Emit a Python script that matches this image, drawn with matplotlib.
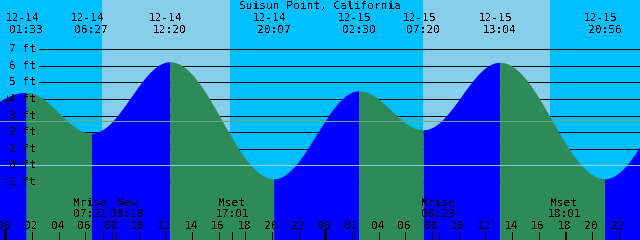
"""Tide chart for Suisun Point, California (two days, XTide-like style)."""

import matplotlib

matplotlib.use("Agg")
import matplotlib.pyplot as plt
import matplotlib.transforms as mtransforms
import numpy as np

plt.rcParams["font.family"] = ["DejaVu Sans Mono"]
plt.rcParams["text.antialiased"] = False

TITLE = "Suisun Point, California"

# tide extremes shown on the chart (times are local, heights in ft)
tide_times = ["12-14 01:33", "12-14 06:27", "12-14 12:20", "12-14 20:07",
              "12-15 02:30", "12-15 07:20", "12-15 13:04", "12-15 20:56"]
tide_levels = [4.4, 1.95, 6.25, -0.8, 4.5, 2.15, 6.22, -0.8]
# extremes just outside the visible window
edge_times = ["12-13 19:00", "12-16 03:20"]
edge_levels = [1.9, 4.5]

sunrise_times = ["12-14 07:13", "12-15 07:20"]
sunset_times = ["12-14 16:50", "12-15 16:50"]

moon_names = ["Mrise", "New", "Mset", "Mrise", "Mset"]
moon_times = ["12-14 07:21", "12-14 08:18", "12-14 17:01", "12-15 08:29", "12-15 18:01"]
moon_label_shift = [-0.97, 0.83, 0.0, 0.0, -0.1]  # hours, to keep labels apart

ft_levels = [-1, 0, 1, 2, 3, 4, 5, 6, 7]
msl_level = 2.7
marker_time = ["12-14 00:07"]
marker_level = [3.95]

NIGHT = "#00bfff"
DAY = "#87ceeb"
RISING = "#0000ff"
FALLING = "#2e8b57"
MSL_COLOR = "#63a68a"
DATUM_COLOR = "#86cde6"

X_MIN, X_MAX = -0.41, 47.59
Y_MIN, Y_MAX = -4.49, 9.97
W, H = 640, 240
PX = 0.72  # one pixel in points


def to_hours(stamp: str) -> float:
    date, clock = stamp.split()
    day = int(date.split("-")[1])
    hh, mm = clock.split(":")
    return (day - 14) * 24 + int(hh) + int(mm) / 60.0


def tide_segments():
    times = [to_hours(edge_times[0])] + [to_hours(s) for s in tide_times] + [to_hours(edge_times[1])]
    levels = [edge_levels[0]] + tide_levels + [edge_levels[1]]
    for (t0, h0), (t1, h1) in zip(zip(times, levels), zip(times[1:], levels[1:])):
        t = np.linspace(t0, t1, 200)
        h = (h0 + h1) / 2 + (h0 - h1) / 2 * np.cos(np.pi * (t - t0) / (t1 - t0))
        yield t, h, h1 > h0


def draw_background(ax):
    edges = [X_MIN]
    for rise, sset in zip(sunrise_times, sunset_times):
        edges += [to_hours(rise), to_hours(sset)]
    edges.append(X_MAX)
    for i, (a, b) in enumerate(zip(edges, edges[1:])):
        ax.axvspan(a, b, color=NIGHT if i % 2 == 0 else DAY, lw=0, zorder=0)
    ax.hlines(ft_levels, X_MIN + (X_MAX - X_MIN) * 39 / W, X_MAX, color="black",
              lw=PX, zorder=1, antialiased=False)


def draw_tide(ax):
    for t, h, rising in tide_segments():
        ax.fill_between(t, h, Y_MIN, color=RISING if rising else FALLING,
                        lw=0, antialiased=False, zorder=2)
    ax.axhline(msl_level, color=MSL_COLOR, lw=PX, zorder=3, antialiased=False)
    ax.axhline(0, color=DATUM_COLOR, lw=PX, zorder=3, antialiased=False)


def draw_labels(ax):
    fs = 8
    blend_y = mtransforms.blended_transform_factory(ax.transAxes, ax.transData)
    blend_x = mtransforms.blended_transform_factory(ax.transData, ax.transAxes)
    for v in ft_levels:
        ax.text(36 / W, v, f"{v} ft", transform=blend_y, ha="right", va="center",
                fontsize=fs, zorder=5)

    ax.text(0.5, 1 - 6.5 / H, TITLE, transform=ax.transAxes, ha="center", va="center",
            fontsize=fs, zorder=5)
    for stamp in tide_times:
        t = to_hours(stamp)
        date, clock = stamp.split()
        ax.text(t - 0.3, 1 - 18 / H, date, transform=blend_x, ha="center", va="center",
                fontsize=fs, zorder=5)
        ax.text(t, 1 - 30 / H, clock, transform=blend_x, ha="center", va="center",
                fontsize=fs, zorder=5)

    for name, stamp, shift in zip(moon_names, moon_times, moon_label_shift):
        t = to_hours(stamp)
        ax.text(t + shift, 1 - 203 / H, name, transform=blend_x, ha="center", va="center",
                fontsize=fs, zorder=5)
        ax.text(t + shift, 1 - 214 / H, stamp.split()[1], transform=blend_x, ha="center",
                va="center", fontsize=fs, zorder=5)
        ax.axvline(t, ymin=0, ymax=8 / H, color="black", lw=PX, zorder=4, antialiased=False)

    for hr in range(0, 48, 2):
        ax.text(hr - 0.08, 1 - 226 / H, f"{hr % 24:02d}", transform=blend_x, ha="center",
                va="center", fontsize=fs, zorder=5)
        thick = hr % 24 == 0
        ax.axvline(hr, ymin=0, ymax=(10 if thick else 8) / H, color="black",
                   lw=3 * PX if thick else PX, zorder=4, antialiased=False)

    ax.plot([to_hours(s) for s in marker_time], marker_level, marker="+", color="black",
            ms=7, mew=PX, ls="none", zorder=6)


def main():
    fig = plt.figure(figsize=(W / 100, H / 100), dpi=100)
    ax = fig.add_axes([0, 0, 1, 1])
    ax.set_xlim(X_MIN, X_MAX)
    ax.set_ylim(Y_MIN, Y_MAX)
    ax.axis("off")
    draw_background(ax)
    draw_tide(ax)
    draw_labels(ax)
    fig.savefig("out.png", dpi=100)


if __name__ == "__main__":
    main()
